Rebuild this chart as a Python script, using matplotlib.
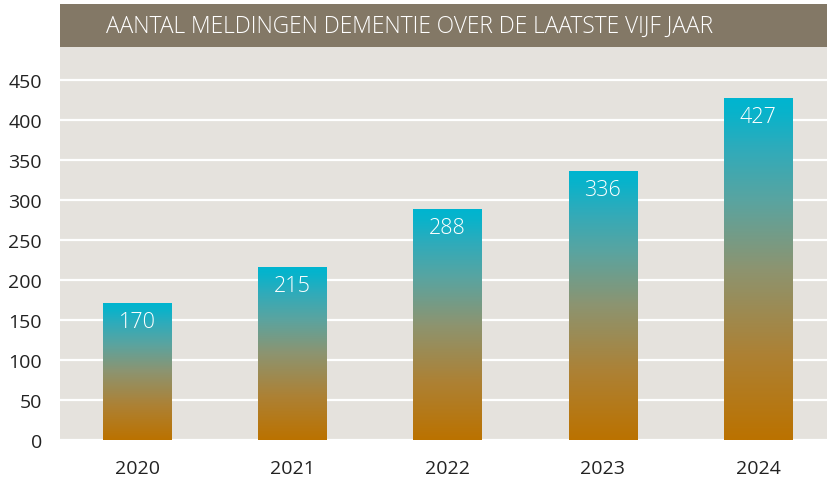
import numpy as np
import matplotlib
matplotlib.use("Agg")
import matplotlib.pyplot as plt
from matplotlib.colors import LinearSegmentedColormap
from matplotlib.patches import Rectangle

# ---- data ----
years = ["2020", "2021", "2022", "2023", "2024"]
meldingen = [170, 215, 288, 336, 427]
y_ticks = [0, 50, 100, 150, 200, 250, 300, 350, 400, 450]
title = "AANTAL MELDINGEN DEMENTIE OVER DE LAATSTE VIJF JAAR"

W, H = 828, 481
plt.rcParams["font.family"] = ["Open Sans", "DejaVu Sans"]

# gradient: bottom (0) -> top (1)
grad = LinearSegmentedColormap.from_list("bar_grad", [
    (0.00, "#bb7200"),
    (0.25, "#ad8134"),
    (0.50, "#8d9470"),
    (0.70, "#5aa4a0"),
    (0.85, "#30abba"),
    (0.96, "#08b3cb"),
    (1.00, "#00b5d0"),
])

fig = plt.figure(figsize=(W / 100, H / 100), dpi=100)
fig.patch.set_facecolor("white")

# plot area
ax = fig.add_axes([60 / W, 40 / H, 768 / W, 393 / H])
ax.set_facecolor("#e5e2dd")

x = np.arange(len(years))
bars = ax.bar(x, meldingen, width=0.44, color="none", edgecolor="none", zorder=3)

gradient = np.linspace(0, 1, 256).reshape(-1, 1)
for rect, val in zip(bars, meldingen):
    x0 = rect.get_x()
    x1 = x0 + rect.get_width()
    h = rect.get_height()
    ax.imshow(gradient, cmap=grad, origin="lower", aspect="auto",
              extent=[x0, x1, 0, h], zorder=3)
    ax.annotate(str(val), (rect.get_x() + rect.get_width() / 2, h),
                xytext=(0, -13), textcoords="offset points",
                ha="center", va="center", color="white",
                fontsize=15.5, fontweight="light", zorder=4)

ax.set_xticks(x)
ax.set_xticklabels(years)
ax.set_yticks(y_ticks)
ax.set_xlim(-0.497, 4.45)
ax.set_ylim(0, 491)
ax.yaxis.grid(True, color="white", linewidth=1.6, zorder=1)
ax.set_axisbelow(True)
ax.tick_params(axis="both", length=0, colors="#222222", labelsize=14)
ax.tick_params(axis="y", pad=13)
ax.tick_params(axis="x", pad=14)
for s in ax.spines.values():
    s.set_visible(False)

# title banner
fig.add_artist(Rectangle((60 / W, 1 - 48 / H), 768 / W, 43 / H,
                         transform=fig.transFigure, facecolor="#837866",
                         edgecolor="none"))
fig.text(106 / W, 1 - 27 / H, title, color="white", fontsize=16.4,
         fontweight="light", ha="left", va="center")

fig.savefig("out.png", dpi=100)
